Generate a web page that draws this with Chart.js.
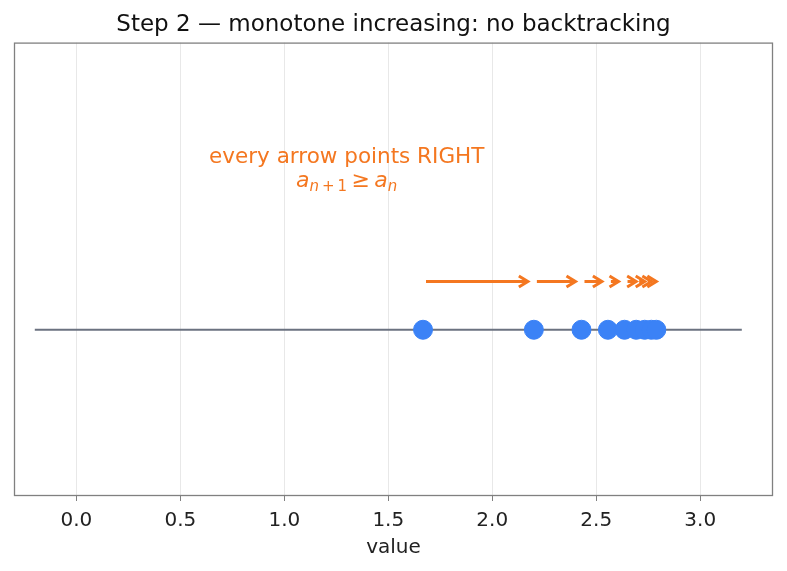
<!DOCTYPE html>
<html>
<head>
<meta charset="utf-8">
<script src="https://cdn.jsdelivr.net/npm/chart.js@4"></script>
<style>
  html, body { margin: 0; padding: 0; background: #fff; }
  #wrap { width: 787px; height: 571px; }
</style>
</head>
<body>
<div id="wrap"><canvas id="chart"></canvas></div>
<script>
// sequence terms a_1 .. a_9
var seqValues = [1.667, 2.2, 2.429, 2.556, 2.636, 2.692, 2.733, 2.765, 2.789];
var baselineX = [-0.2, 3.2];
var tickValues = [0, 0.5, 1.0, 1.5, 2.0, 2.5, 3.0];
var arrowLevel = 0.16;
var noteX = 1.3;
var noteY = [0.57, 0.49];

var orange = '#f47720';
var blue = '#3b82f6';
var font = "'DejaVu Sans', sans-serif";

var frame = {
    id: 'frame',
    afterDraw: function(chart) {
        var a = chart.chartArea, c = chart.ctx;
        c.save();
        c.strokeStyle = '#808080';
        c.lineWidth = 1.3;
        c.strokeRect(a.left + 0.5, a.top + 0.5, a.right - a.left - 1, a.bottom - a.top - 1);
        c.restore();
    }
};

var arrows = {
    id: 'arrows',
    afterDatasetsDraw: function(chart) {
        var xs = chart.scales.x, ys = chart.scales.y, c = chart.ctx;
        var y = Math.round(ys.getPixelForValue(arrowLevel)) + 0.5;
        c.save();
        c.strokeStyle = orange;
        c.lineWidth = 3;
        c.lineCap = 'butt';
        c.lineJoin = 'miter';
        for (var i = 0; i < seqValues.length - 1; i++) {
            var x0 = xs.getPixelForValue(seqValues[i]) + 3;
            var x1 = xs.getPixelForValue(seqValues[i + 1]) - 6;
            if (x1 < x0 + 4) {
                x1 = xs.getPixelForValue(seqValues[i + 1]);
            }
            c.beginPath();
            if (x1 > x0) {
                c.moveTo(x0, y);
                c.lineTo(x1, y);
            }
            c.moveTo(x1 - 9, y - 5.5);
            c.lineTo(x1, y);
            c.lineTo(x1 - 9, y + 5.5);
            c.stroke();
        }

        // annotation text
        var cx = xs.getPixelForValue(noteX);
        c.fillStyle = orange;
        c.textBaseline = 'middle';
        c.textAlign = 'center';
        c.font = '21.5px ' + font;
        c.fillText('every arrow points RIGHT', cx, ys.getPixelForValue(noteY[0]));

        // a_{n+1} >= a_n
        var y2 = ys.getPixelForValue(noteY[1]);
        var parts = [
            { t: 'a', f: 'italic 22px ' + font, dy: 0 },
            { t: 'n', f: 'italic 15px ' + font, dy: 5 },
            { t: '\u2009+\u20091', f: '15px ' + font, dy: 5 },
            { t: '\u2009\u2265\u2009', f: '22px ' + font, dy: 0 },
            { t: 'a', f: 'italic 22px ' + font, dy: 0 },
            { t: 'n', f: 'italic 15px ' + font, dy: 5 }
        ];
        var total = 0;
        parts.forEach(function(p) { c.font = p.f; p.w = c.measureText(p.t).width; total += p.w; });
        var x = cx - total / 2;
        c.textAlign = 'left';
        parts.forEach(function(p) {
            c.font = p.f;
            c.fillText(p.t, x, y2 + p.dy);
            x += p.w;
        });
        c.restore();
    }
};

var ctx = document.getElementById('chart');
new Chart(ctx, {
    type: 'scatter',
    data: {
        datasets: [
            {
                label: 'terms',
                data: seqValues.map(function(v) { return { x: v, y: 0 }; }),
                backgroundColor: blue,
                borderColor: blue,
                pointRadius: 9.5,
                pointHoverRadius: 9.5,
                order: 1
            },
            {
                label: 'number line',
                data: baselineX.map(function(v) { return { x: v, y: 0 }; }),
                showLine: true,
                borderColor: '#6b7280',
                borderWidth: 2.2,
                pointRadius: 0,
                order: 2
            }
        ]
    },
    plugins: [frame, arrows],
    options: {
        responsive: true,
        maintainAspectRatio: false,
        animation: false,
        layout: { padding: { left: 14, right: 14, bottom: 11 } },
        plugins: {
            legend: { display: false },
            tooltip: { enabled: false },
            title: {
                display: true,
                text: 'Step 2 \u2014 monotone increasing: no backtracking',
                color: '#111',
                font: { family: font, size: 23, weight: 'normal' },
                padding: { top: 11, bottom: 4 }
            }
        },
        scales: {
            x: {
                type: 'linear',
                min: -0.3,
                max: 3.35,
                afterBuildTicks: function(axis) {
                    axis.ticks = tickValues.map(function(v) { return { value: v }; });
                },
                grid: {
                    color: '#e8e8e8',
                    tickColor: '#808080',
                    tickLength: 5,
                    drawTicks: true
                },
                border: { display: false },
                ticks: {
                    color: '#222',
                    padding: 10,
                    maxRotation: 0,
                    font: { family: font, size: 20, lineHeight: 1 },
                    callback: function(v) { return Number(v).toFixed(1); }
                },
                title: {
                    display: true,
                    text: 'value',
                    color: '#222',
                    font: { family: font, size: 20 },
                    padding: { top: -5, bottom: 0 }
                }
            },
            y: {
                display: false,
                min: -0.55,
                max: 0.95
            }
        }
    }
});
</script>
</body>
</html>
